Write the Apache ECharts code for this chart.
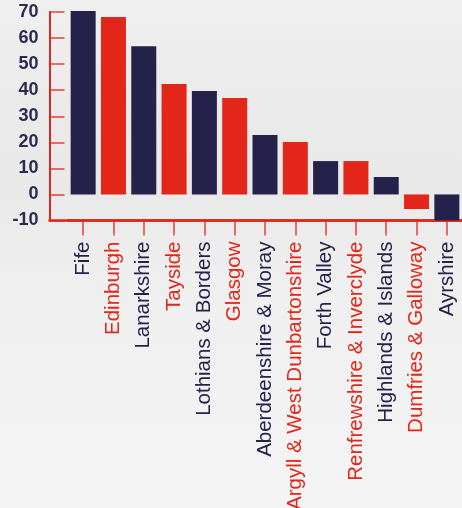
<!DOCTYPE html>
<html>
<head>
<meta charset="utf-8">
<script src="https://cdn.jsdelivr.net/npm/echarts@6/dist/echarts.min.js"></script>
<style>
html,body{margin:0;padding:0;width:462px;height:508px;overflow:hidden;}
body{background:linear-gradient(to bottom,#f0f0f0 0%,#eaeaea 22%,#e9e9e9 38%,#efefef 55%,#f4f4f4 100%);}
#c{width:462px;height:508px;}
</style>
</head>
<body>
<div id="c"></div>
<script>
const categories = ["Fife","Edinburgh","Lanarkshire","Tayside","Lothians & Borders","Glasgow","Aberdeenshire & Moray","Argyll & West Dunbartonshire","Forth Valley","Renfrewshire & Inverclyde","Highlands & Islands","Dumfries & Galloway","Ayrshire"];
const values = [70.4, 68.1, 56.9, 42.4, 39.7, 37.0, 22.8, 20.1, 12.8, 12.8, 6.7, -5.6, -10];
const yTicks = [-10, 0, 10, 20, 30, 40, 50, 60, 70];

const NAVY = '#24224a';
const RED = '#e3261a';
const TICK = 'rgba(227,38,26,0.65)';
const FONT = '"Liberation Sans", Arial, Helvetica, sans-serif';

const chart = echarts.init(document.getElementById('c'), null, {renderer: 'canvas'});
chart.setOption({
  backgroundColor: 'transparent',
  animation: false,
  grid: [
    {left: 68, right: 0, top: 12, bottom: 287.5, containLabel: false, outerBoundsMode: 'none'},
    {left: 49.5, right: 0, top: 12, bottom: 287.5, containLabel: false, outerBoundsMode: 'none'}
  ],
  xAxis: [
    {
      type: 'category',
      gridIndex: 0,
      data: categories,
      axisLine: {show: true, onZero: false, lineStyle: {color: RED, width: 2.5}},
      axisTick: {show: true, alignWithLabel: true, length: 15, lineStyle: {color: TICK, width: 2}},
      axisLabel: {
        rotate: 90, margin: 21, interval: 0, fontSize: 20.5, fontFamily: FONT,
        color: (v, i) => (i % 2 ? RED : NAVY)
      }
    },
    {
      type: 'value',
      gridIndex: 1,
      axisLine: {show: true, onZero: false, lineStyle: {color: RED, width: 2.5}},
      axisTick: {show: false},
      axisLabel: {show: false},
      splitLine: {show: false}
    }
  ],
  yAxis: [
    {
      type: 'value',
      gridIndex: 0,
      min: yTicks[0],
      max: yTicks[yTicks.length - 1],
      interval: 10,
      offset: 18.5,
      axisLine: {show: true, lineStyle: {color: RED, width: 2}},
      axisTick: {show: true, inside: true, length: 15, lineStyle: {color: TICK, width: 2}},
      splitLine: {show: false},
      axisLabel: {margin: 11, fontSize: 18, fontWeight: 'bold', fontFamily: FONT, color: '#2b2a52'}
    },
    {type: 'value', gridIndex: 1, show: false}
  ],
  series: [{
    type: 'bar', xAxisIndex: 0, yAxisIndex: 0, data: values, barWidth: 25, clip: false,
    itemStyle: {color: p => (p.dataIndex % 2 ? RED : NAVY)}
  }]
});
</script>
</body>
</html>
